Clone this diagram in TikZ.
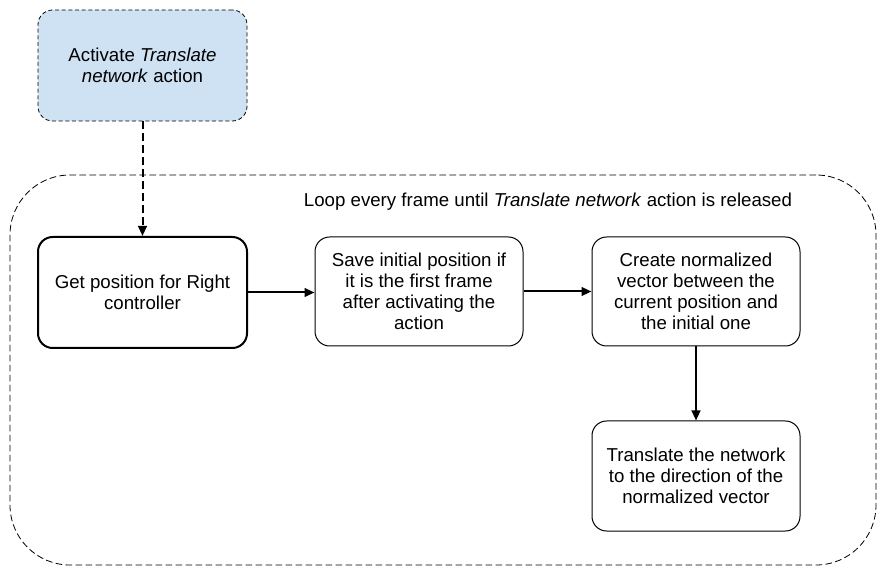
\documentclass[tikz,border=0pt]{standalone}
\usepackage{fontspec}
\setmainfont{Liberation Sans}
\usetikzlibrary{arrows.meta}
\definecolor{paleblue}{HTML}{CFE2F3}
\tikzset{
  px/.style={x=0.75pt,y=0.75pt},
  txt/.style={font=\fontsize{14pt}{15.9pt}\selectfont},
  stepbox/.style={draw, rounded corners=11pt, line width=0.75pt, align=center,
    txt, inner sep=2pt},
  flow/.style={line width=1.5pt, -{Triangle[length=7.5pt,width=6.5pt]}},
}
\begin{document}
\begin{tikzpicture}[px]
\useasboundingbox (0,0) rectangle (886,-577);
\node[draw, dash pattern=on 5pt off 2.5pt, line width=0.6pt, rounded corners=45pt,
  minimum width=649.5pt, minimum height=292.5pt] (loop) at (443,-370) {};
\node[txt] (looplabel) at (548,-202)
  {Loop every frame until \textit{Translate network} action is released};
\node[stepbox, fill=paleblue, dash pattern=on 3pt off 2pt, line width=0.6pt,
  minimum width=156.75pt, minimum height=83.25pt] (act) at (142.5,-65.5)
  {Activate \textit{Translate}\\\textit{network} action};
\node[stepbox, line width=1.5pt, minimum width=156.75pt, minimum height=83.25pt]
  (get) at (142.5,-292.5) {Get position for Right\\controller};
\node[stepbox, minimum width=156pt, minimum height=81.75pt] (save) at (419,-291.5)
  {Save initial position if\\it is the first frame\\after activating the\\action};
\node[stepbox, minimum width=156pt, minimum height=81.75pt] (create) at (696,-291.5)
  {Create normalized\\vector between the\\current position and\\the initial one};
\node[stepbox, minimum width=156pt, minimum height=82.5pt] (trans) at (696,-476)
  {Translate the network\\to the direction of the\\normalized vector};
\draw[flow, dash pattern=on 6pt off 3pt] (act) -- (get);
\draw[flow] (get.east) -- (save.west |- get.east);
\draw[flow] (save) -- (create);
\draw[flow] (create) -- (trans);
\end{tikzpicture}
\end{document}
